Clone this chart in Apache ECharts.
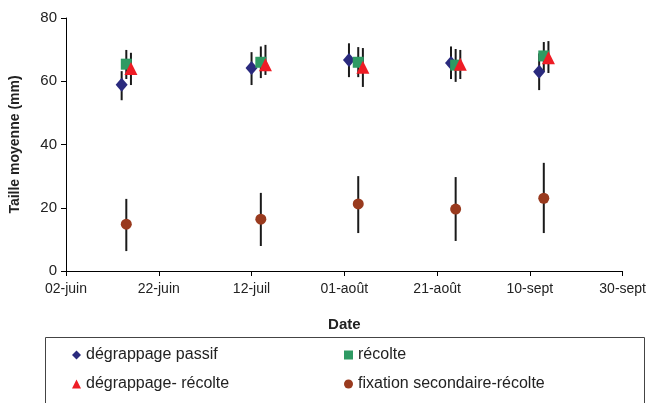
<!DOCTYPE html>
<html><head><meta charset="utf-8">
<script src="https://cdn.jsdelivr.net/npm/echarts@6/dist/echarts.min.js"></script>
<style>html,body{margin:0;padding:0;background:#fff}#c{width:649px;height:403px}</style>
</head><body><div id="c"></div>
<script>
// Tick labels (every 20 days from 02-juin)
var tickLabels = ['02-juin','22-juin','12-juil','01-août','21-août','10-sept','30-sept'];
var startDate = '2008-06-02';
// Sampling dates per series
var datesPassif = ['2008-06-14','2008-07-12','2008-08-02','2008-08-24','2008-09-12'];
var datesRecolte = ['2008-06-15','2008-07-14','2008-08-04','2008-08-25','2008-09-13'];
var datesDegRec = ['2008-06-16','2008-07-15','2008-08-05','2008-08-26','2008-09-14'];
var datesFixation = ['2008-06-15','2008-07-14','2008-08-04','2008-08-25','2008-09-13'];
// Mean values (mm)
var passif = [58.9, 64.2, 66.7, 65.8, 63.0];
var recolte = [65.4, 66.0, 66.0, 65.1, 68.0];
var degRec = [64.0, 65.2, 64.4, 65.4, 67.4];
var fixation = [14.8, 16.4, 21.2, 19.6, 23.0];
// Error bar extents (low, high)
var passifLow = [54.0, 58.8, 61.3, 60.7, 57.2];
var passifHigh = [63.2, 69.2, 72.0, 71.0, 68.8];
var recolteLow = [60.7, 61.0, 61.3, 59.8, 63.0];
var recolteHigh = [69.9, 71.0, 70.8, 70.2, 72.4];
var degRecLow = [58.8, 62.0, 58.2, 60.7, 62.6];
var degRecHigh = [69.0, 71.5, 70.5, 69.9, 72.7];
var fixationLow = [6.3, 7.9, 12.0, 9.5, 12.0];
var fixationHigh = [22.8, 24.7, 30.0, 29.7, 34.2];
var legendNames = ['dégrappage passif','récolte','dégrappage- récolte','fixation secondaire-récolte'];

var DAY = 86400000;
function dayOffset(s){ return Math.round((Date.parse(s) - Date.parse(startDate)) / DAY); }
function pts(dates, vals){ return dates.map(function(d,i){ return [dayOffset(d), vals[i]]; }); }
function bars(dates, lo, hi){ return dates.map(function(d,i){ return [dayOffset(d), lo[i], hi[i]]; }); }

function errSeries(data){
  return {
    type:'custom', silent:true, z:1,
    renderItem:function(params, api){
      var p1 = api.coord([api.value(0), api.value(1)]);
      var p2 = api.coord([api.value(0), api.value(2)]);
      return {type:'line', shape:{x1:p1[0],y1:p1[1],x2:p2[0],y2:p2[1]}, style:{stroke:'#1a1a1a', lineWidth:2}};
    },
    encode:{x:0, y:[1,2]},
    data:data
  };
}

var cBlue = '#2A2A7E', cGreen = '#2E9A63', cRed = '#EE1C25', cBrown = '#993A1E';
var chart = echarts.init(document.getElementById('c'), null, {renderer:'canvas'});
var font = 'Liberation Sans, Arial, sans-serif';
var legendPos = [[72,347],[344,347],[72,376],[344,376]];
var legends = legendNames.map(function(n,i){
  return {data:[n], left:legendPos[i][0], top:legendPos[i][1], itemWidth:9, itemHeight:9, itemGap:0, padding:0,
    textStyle:{fontFamily:font, fontSize:16, color:'#222'}};
});
chart.setOption({
  animation:false,
  textStyle:{fontFamily:font},
  grid:{left:64, right:25, top:18, bottom:132, containLabel:false},
  xAxis:{
    type:'value', min:0, max:120, interval:20,
    name:'Date', nameLocation:'middle', nameGap:46,
    nameTextStyle:{fontFamily:font, fontWeight:'bold', fontSize:15, color:'#222'},
    axisLine:{lineStyle:{color:'#000', width:1}},
    axisTick:{show:true, length:5, lineStyle:{color:'#000'}},
    axisLabel:{fontFamily:font, fontSize:14, color:'#222', margin:18, verticalAlign:'middle',
      formatter:function(v){ return tickLabels[Math.round(v/20)] || ''; }},
    splitLine:{show:false}
  },
  yAxis:{
    type:'value', min:0, max:80, interval:20,
    name:'Taille moyenne (mm)', nameLocation:'middle', nameGap:44, nameRotate:90,
    nameTextStyle:{fontFamily:font, fontWeight:'bold', fontSize:14, color:'#222'},
    axisLine:{show:true, lineStyle:{color:'#000', width:1}},
    axisTick:{show:true, length:5, lineStyle:{color:'#000'}},
    axisLabel:{fontFamily:font, fontSize:15, color:'#222', margin:9},
    splitLine:{show:false}
  },
  graphic:[{type:'rect', shape:{x:45.5, y:337.5, width:599, height:80}, style:{fill:'none', stroke:'#444', lineWidth:1}, z:0}],
  legend:legends,
  series:[
    errSeries(bars(datesPassif, passifLow, passifHigh)),
    errSeries(bars(datesRecolte, recolteLow, recolteHigh)),
    errSeries(bars(datesDegRec, degRecLow, degRecHigh)),
    errSeries(bars(datesFixation, fixationLow, fixationHigh)),
    {name:legendNames[0], type:'scatter', z:3, symbol:'diamond', symbolSize:[12,14], itemStyle:{color:cBlue, opacity:1}, data:pts(datesPassif, passif)},
    {name:legendNames[1], type:'scatter', z:3, symbol:'rect', symbolSize:11, itemStyle:{color:cGreen, opacity:1}, data:pts(datesRecolte, recolte)},
    {name:legendNames[2], type:'scatter', z:3, symbol:'triangle', symbolSize:13, itemStyle:{color:cRed, opacity:1}, data:pts(datesDegRec, degRec)},
    {name:legendNames[3], type:'scatter', z:3, symbol:'circle', symbolSize:11, itemStyle:{color:cBrown, opacity:1}, data:pts(datesFixation, fixation)}
  ]
});
</script></body></html>
